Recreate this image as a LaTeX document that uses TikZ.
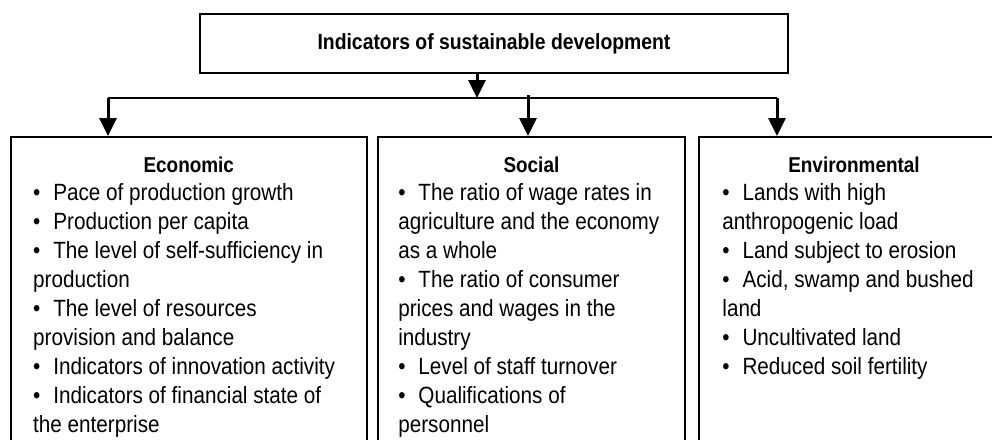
\documentclass[tikz,border=0pt]{standalone}
\usepackage{fontspec}
\setmainfont[FakeStretch=0.88]{Liberation Sans}
\usetikzlibrary{positioning, arrows.meta}

\newcommand{\bul}{\textbullet\hspace{0.55em}}

\begin{document}
\begin{tikzpicture}[x=1pt, y=-1pt,
  topbox/.style = {draw, line width=1.5pt, minimum width=588pt, minimum height=59pt,
    font=\bfseries\fontsize{22}{26}\selectfont},
  catbox/.style = {draw, line width=1.6pt, minimum height=330pt, inner sep=0pt},
  cattitle/.style = {font=\bfseries\fontsize{21.5}{24}\selectfont, inner sep=0pt},
  catlist/.style = {font=\fontsize{23.5}{29}\selectfont, align=left, inner sep=0pt},
  arr/.style = {-{Triangle[width=17pt,length=18pt]}, line width=3pt},
  bus/.style = {line width=1.6pt}]

\path[use as bounding box, clip] (0,0) rectangle (992,439);

\node[topbox] (top) at (494,43.5) {Indicators of sustainable development};

% the three groups
\node[catbox, minimum width=356pt, anchor=north west] (eco) at (10,136) {};
\node[catbox, minimum width=307pt] (soc) [right = 9.5pt of eco] {};
\node[catbox, minimum width=310pt] (env) [right = 12.5pt of soc] {};

\node[cattitle] (ecot) [below = 36pt of eco.north, anchor=base] {Economic};
\node[cattitle] (soct) [below = 36pt of soc.north, anchor=base] {Social};
\node[cattitle] (envt) [below = 36pt of env.north, anchor=base] {Environmental};

\node[catlist] (ecol) [below right = 47pt and 23pt of eco.north west] {%
\bul Pace of production growth\\
\bul Production per capita\\
\bul The level of self-sufficiency in\\
production\\
\bul The level of resources\\
provision and balance\\
\bul Indicators of innovation activity\\
\bul Indicators of financial state of\\
the enterprise};

\node[catlist] (socl) [below right = 47pt and 21pt of soc.north west] {%
\bul The ratio of wage rates in\\
agriculture and the economy\\
as a whole\\
\bul The ratio of consumer\\
prices and wages in the\\
industry\\
\bul Level of staff turnover\\
\bul Qualifications of\\
personnel};

\node[catlist] (envl) [below right = 47pt and 24pt of env.north west] {%
\bul Lands with high\\
anthropogenic load\\
\bul Land subject to erosion\\
\bul Acid, swamp and bushed\\
land\\
\bul Uncultivated land\\
\bul Reduced soil fertility};

% connectors
\coordinate (split) at (477,98);
\coordinate (jl) at (108,98);
\coordinate (jr) at (777,98);
\coordinate (js) at (528,95);

\draw[bus] (jl) -- (jr);
\draw[arr] (top.south -| split) -- (split);
\draw[arr] (jl) -- (jl |- eco.north);
\draw[arr] (js) -- (js |- soc.north);
\draw[arr] (jr) -- (jr |- env.north);

\end{tikzpicture}
\end{document}
